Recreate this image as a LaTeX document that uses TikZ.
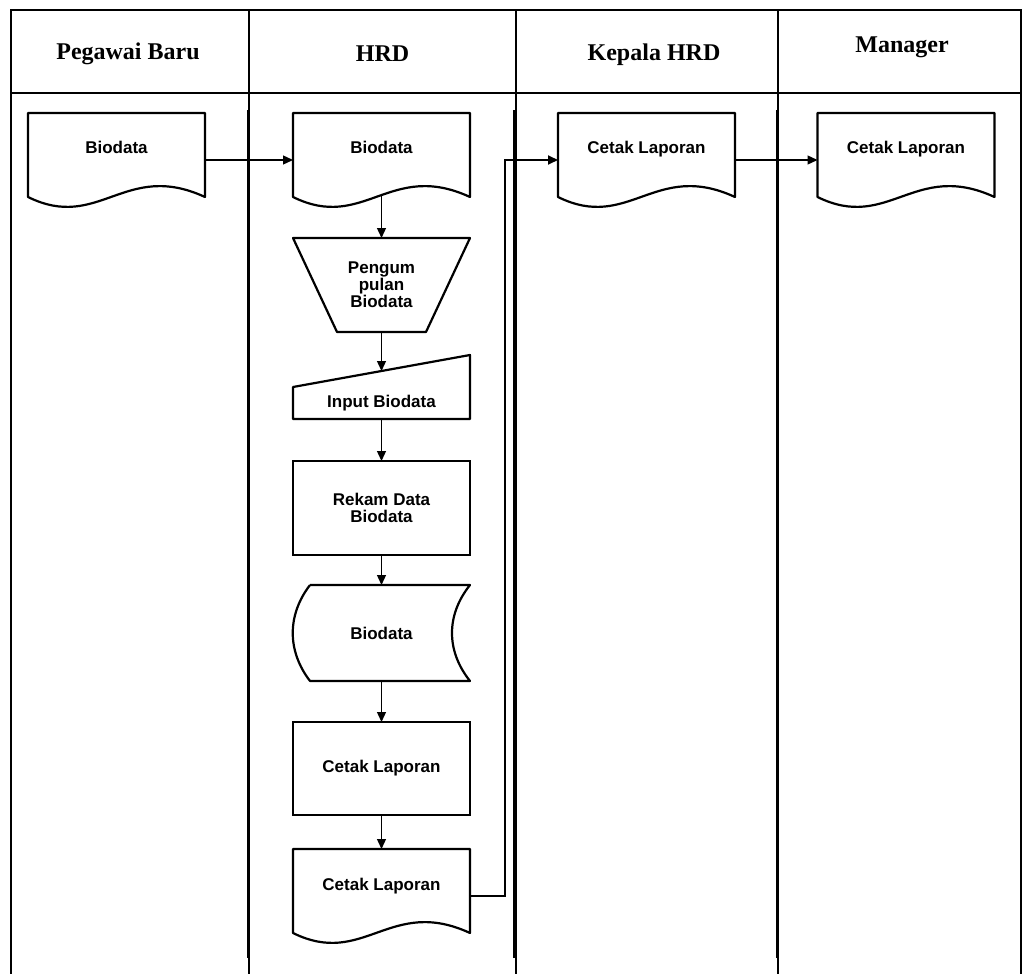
\documentclass[tikz,border=0pt]{standalone}
\usepackage{fontspec}
\setmainfont{Liberation Serif}
\setsansfont{Liberation Sans}
\usepackage{tikz}
\usetikzlibrary{positioning,calc,arrows.meta}

\tikzset{
  frame/.style={line width=1.3pt},
  laneline/.style={line width=3pt},
  head/.style={anchor=base, font=\fontsize{24}{26}\selectfont\bfseries},
  box/.style={rectangle, inner sep=0pt, outer sep=0pt, minimum width=177pt,
    align=center, font=\fontsize{17}{17}\selectfont\sffamily\bfseries},
  proc/.style={box, draw, line width=2.2pt},
  outline/.style={line width=2.2pt, line join=round},
  arr/.style={line width=1.3pt, -{Triangle[length=10pt,width=9pt]}},
}

% text of a document symbol sits above its wavy edge
\newcommand{\doctext}[1]{\raisebox{6pt}[0pt][0pt]{#1}}
% document symbol round a node
\newcommand{\docpath}[1]{%
  \draw[outline] (#1.north east) -- (#1.north west) -- ($(#1.north west)+(0,84)$)
    .. controls ($(#1.north west)+(71,119)$) and ($(#1.north west)+(97,47)$)
    .. ($(#1.north west)+(177,84)$) -- cycle;}

\begin{document}
\begin{tikzpicture}[x=1pt,y=-1pt]
    \useasboundingbox (0,0) rectangle (1029,974);

    % Swimlanes
    \draw[frame] (11,974) -- (11,10) -- (1021,10) -- (1021,974);
    \draw[frame] (11,93) -- (1021,93);
    \foreach \x in {249,516,778} \draw[frame] (\x,10) -- (\x,974);
    \foreach \x in {248,514,777} \draw[laneline] (\x,110) -- (\x,958);

    \node[head] (hPeg) at (128,60) {Pegawai Baru};
    \node[head] (hHrd) at (382.5,62) {HRD};
    \node[head] (hKep) at (654,61) {Kepala HRD};
    \node[head] (hMan) at (902,53) {Manager};

    % Pegawai Baru
    \node[box, minimum height=94pt] (pegDoc) at (116.5,160) {\doctext{Biodata}};
    \docpath{pegDoc}

    % HRD
    \node[box, minimum height=94pt] (hrdDoc) at (381.5,160) {\doctext{Biodata}};
    \docpath{hrdDoc}
    \node[box, minimum height=94pt] (kumpul) at (381.5,285) {Pengum\\pulan\\Biodata};
    \draw[outline] (kumpul.north west) -- (kumpul.north east)
      -- ($(kumpul.south east)+(-44,0)$) -- ($(kumpul.south west)+(44,0)$) -- cycle;
    \node[box, minimum height=32pt] (inp) at (381.5,403) {Input Biodata};
    \draw[outline] (inp.south west) -- (inp.north west)
      -- ($(inp.north east)+(0,-32)$) -- (inp.south east) -- cycle;
    \node[proc, minimum height=94pt] (rekam) at (381.5,508) {Rekam Data\\Biodata};
    \node[box, minimum height=96pt] (simpan) at (381.5,633) {Biodata};
    \draw[outline] ($(simpan.north west)+(17,0)$) -- (simpan.north east)
      .. controls ($(simpan.east)+(-24,-18)$) and ($(simpan.east)+(-24,18)$) .. (simpan.south east)
      -- ($(simpan.south west)+(17,0)$)
      .. controls ($(simpan.west)+(-6,18)$) and ($(simpan.west)+(-6,-18)$) .. ($(simpan.north west)+(17,0)$);
    \node[proc, minimum height=93pt] (cetak) at (381.5,768.5) {Cetak Laporan};
    \node[box, minimum height=94pt] (lapDoc) at (381.5,896) {\doctext{Cetak Laporan}};
    \docpath{lapDoc}

    % Kepala HRD and Manager
    \node[box, minimum height=94pt] (kepDoc) at (646.5,160) {\doctext{Cetak Laporan}};
    \docpath{kepDoc}
    \node[box, minimum height=94pt] (manDoc) at (906,160) {\doctext{Cetak Laporan}};
    \docpath{manDoc}

    % Flow
    \draw[arr] (pegDoc.east) -- (hrdDoc.west);
    \draw[arr] ($(hrdDoc.south)+(0,-11)$) -- (kumpul.north);
    \draw[arr] (kumpul.south) -- ($(inp.north)+(0,-16)$);
    \draw[arr] (inp.south) -- (rekam.north);
    \draw[arr] (rekam.south) -- (simpan.north);
    \draw[arr] (simpan.south) -- (cetak.north);
    \draw[arr] (cetak.south) -- (lapDoc.north);
    \draw[arr, line width=2pt] (lapDoc.east) -- ++(35,0) |- (kepDoc.west);
    \draw[arr] (kepDoc.east) -- (manDoc.west);
\end{tikzpicture}
\end{document}
